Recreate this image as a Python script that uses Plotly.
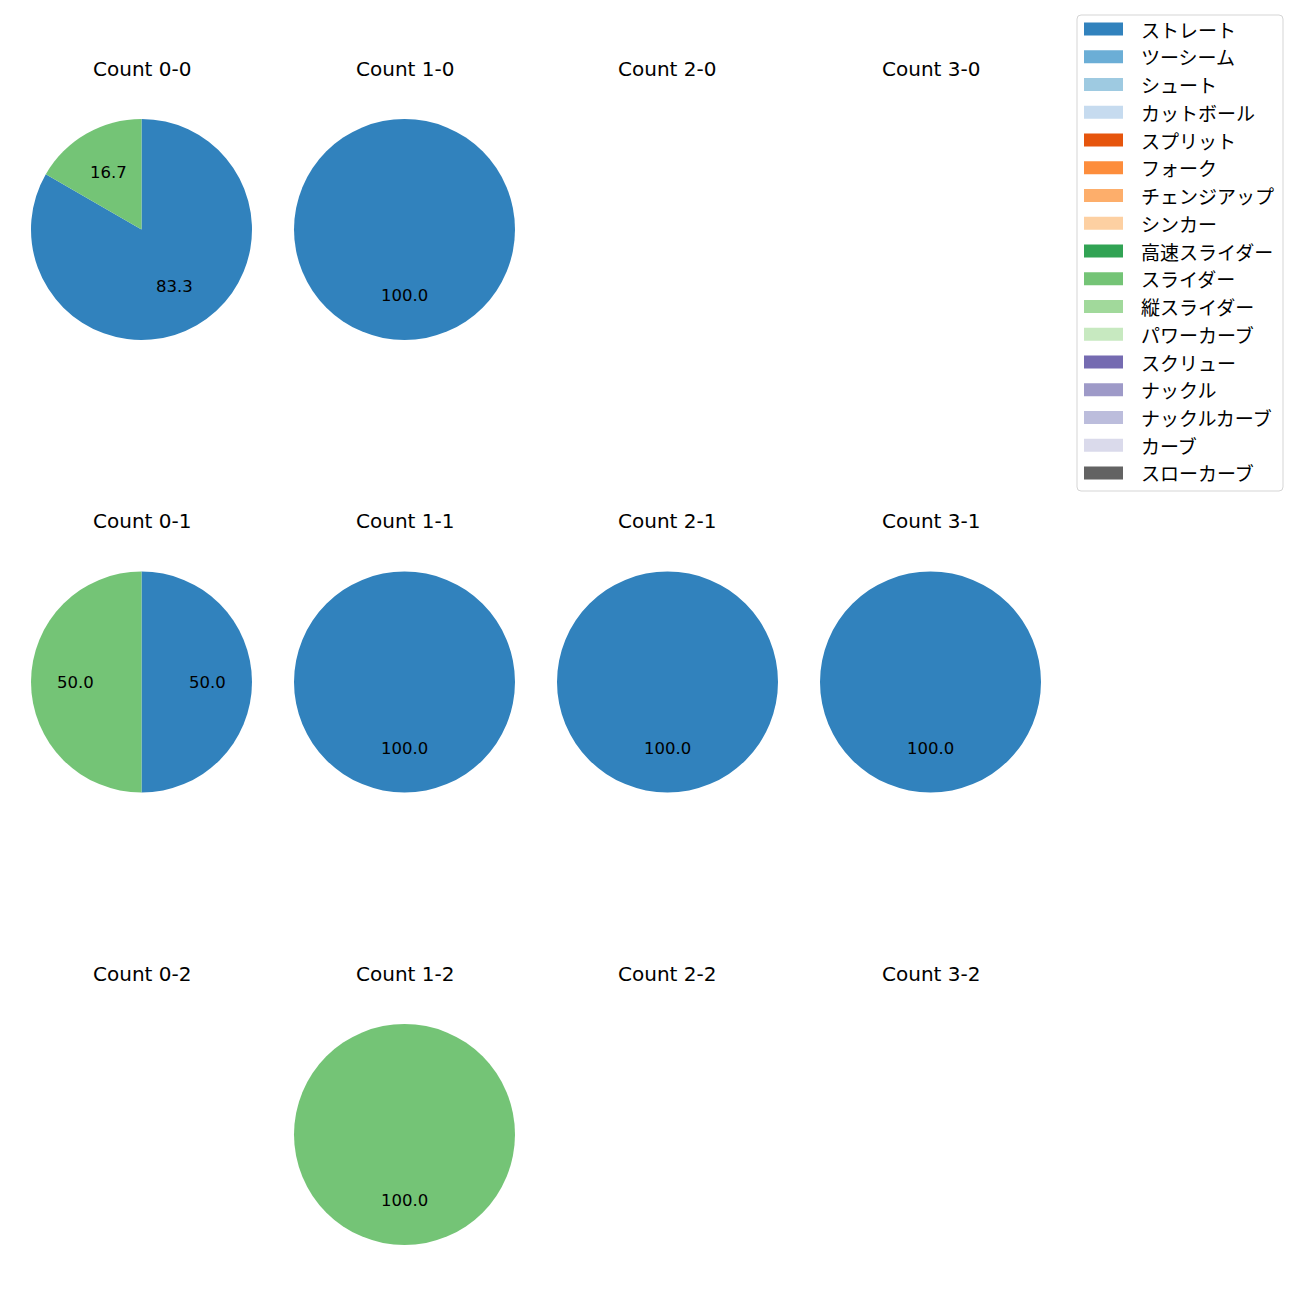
import math
import plotly.graph_objects as go

# ---- data ----
pitch_types = ["ストレート", "ツーシーム", "シュート", "カットボール", "スプリット", "フォーク",
               "チェンジアップ", "シンカー", "高速スライダー", "スライダー", "縦スライダー",
               "パワーカーブ", "スクリュー", "ナックル", "ナックルカーブ", "カーブ", "スローカーブ"]
pitch_colors = ["#3182bd", "#6baed6", "#9ecae1", "#c6dbef", "#e6550d", "#fd8d3c",
                "#fdae6b", "#fdd0a2", "#31a354", "#74c476", "#a1d99b",
                "#c7e9c0", "#756bb1", "#9e9ac8", "#bcbddc", "#dadaeb", "#636363"]
balls = [0, 1, 2, 3]
strikes = [0, 1, 2]
# counts per (balls-strikes): {pitch type: count}
count_data = {
    "0-0": {"ストレート": 5, "スライダー": 1},
    "1-0": {"ストレート": 3},
    "2-0": {},
    "3-0": {},
    "0-1": {"ストレート": 1, "スライダー": 1},
    "1-1": {"ストレート": 2},
    "2-1": {"ストレート": 1},
    "3-1": {"ストレート": 1},
    "0-2": {},
    "1-2": {"スライダー": 1},
    "2-2": {},
    "3-2": {},
}

# ---- layout constants (pixels) ----
W = H = 1300
col_cx = [141.5, 404.5, 667.5, 930.5]
row_cy = [229.5, 682.0, 1134.5]
R = 110.5
TITLE_OFF = 161.0
LATIN_FONT = "DejaVu Sans, Noto Sans, sans-serif"
CJK_FONT = "Noto Sans CJK JP, sans-serif"
color_map = dict(zip(pitch_types, pitch_colors))


def px_x(x):
    return x / W


def px_y(y):
    return 1 - y / H


fig = go.Figure()
annotations = []
shapes = []

for j, s in enumerate(strikes):
    for i, b in enumerate(balls):
        key = f"{b}-{s}"
        cx, cy = col_cx[i], row_cy[j]
        annotations.append(dict(
            x=px_x(cx), y=px_y(cy - TITLE_OFF), xref="paper", yref="paper",
            text=f"Count {key}", showarrow=False, xanchor="center", yanchor="middle",
            font=dict(family=LATIN_FONT, size=20, color="#000000")))
        d = count_data[key]
        labels = [p for p in pitch_types if d.get(p, 0) > 0]
        vals = [d[p] for p in labels]
        if not vals:
            continue
        fig.add_trace(go.Pie(
            labels=labels, values=vals, sort=False, direction="clockwise", rotation=0,
            marker=dict(colors=[color_map[l] for l in labels], line=dict(width=0)),
            textinfo="none", hoverinfo="label+percent", showlegend=False,
            domain=dict(x=[px_x(cx - R), px_x(cx + R)], y=[px_y(cy + R), px_y(cy - R)])))
        total = sum(vals)
        cum = 0
        for l, v in zip(labels, vals):
            frac_mid = (cum + v / 2) / total
            ang = math.radians(90 - 360 * frac_mid)
            lx = cx + 0.6 * R * math.cos(ang)
            ly = cy - 0.6 * R * math.sin(ang)
            annotations.append(dict(
                x=px_x(lx), y=px_y(ly), xref="paper", yref="paper",
                text=f"{100 * v / total:.1f}", showarrow=False,
                xanchor="center", yanchor="middle",
                font=dict(family=LATIN_FONT, size=16.5, color="#000000")))
            cum += v

# ---- legend (manual) ----
LX0, LX1, LY0, LY1 = 1077, 1283, 15, 491
rr = 4
path = (f"M {px_x(LX0 + rr)} {px_y(LY0)} L {px_x(LX1 - rr)} {px_y(LY0)} "
        f"Q {px_x(LX1)} {px_y(LY0)} {px_x(LX1)} {px_y(LY0 + rr)} "
        f"L {px_x(LX1)} {px_y(LY1 - rr)} Q {px_x(LX1)} {px_y(LY1)} {px_x(LX1 - rr)} {px_y(LY1)} "
        f"L {px_x(LX0 + rr)} {px_y(LY1)} Q {px_x(LX0)} {px_y(LY1)} {px_x(LX0)} {px_y(LY1 - rr)} "
        f"L {px_x(LX0)} {px_y(LY0 + rr)} Q {px_x(LX0)} {px_y(LY0)} {px_x(LX0 + rr)} {px_y(LY0)} Z")
shapes.append(dict(type="path", path=path, xref="paper", yref="paper",
                   line=dict(color="#d5d5d5", width=1), fillcolor="rgba(255,255,255,0.8)"))
row0, step = 29.0, 27.75
for k, (lab, col) in enumerate(zip(pitch_types, pitch_colors)):
    yc = row0 + step * k
    shapes.append(dict(type="rect", xref="paper", yref="paper",
                       x0=px_x(1084), x1=px_x(1123), y0=px_y(yc + 6.5), y1=px_y(yc - 6.5),
                       fillcolor=col, line=dict(width=0)))
    annotations.append(dict(
        x=px_x(1139), y=px_y(yc), xref="paper", yref="paper", text=lab, showarrow=False,
        xanchor="left", yanchor="middle", font=dict(family=CJK_FONT, size=19, color="#000000")))

fig.update_layout(
    width=W, height=H, margin=dict(l=0, r=0, t=0, b=0),
    paper_bgcolor="white", plot_bgcolor="white",
    annotations=annotations, shapes=shapes, showlegend=False,
)
fig.write_html("out.html")
